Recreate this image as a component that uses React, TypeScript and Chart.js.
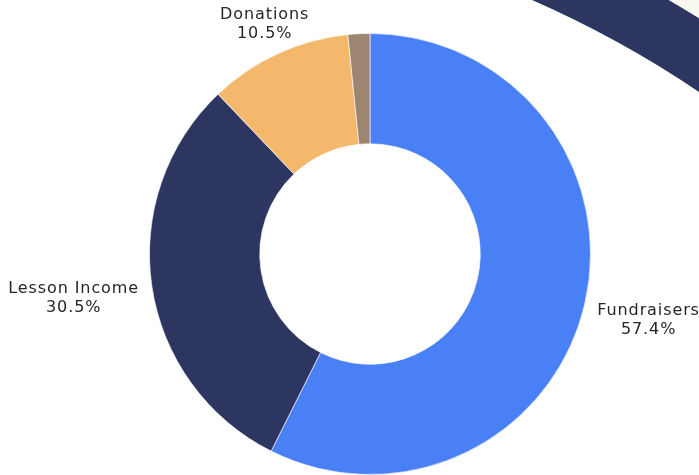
import React, { useEffect, useRef } from "react";
import { Chart, registerables } from "chart.js";

Chart.register(...registerables);

const categories = ["Fundraisers", "Lesson Income", "Donations", "Other"];
const values = [57.4, 30.5, 10.5, 1.6];
const valueLabels = ["57.4%", "30.5%", "10.5%", ""];
const colors = ["#4a80f6", "#2d3561", "#f3b86b", "#9c8672"];

const FONT = "16px 'DejaVu Sans', sans-serif";

const decorPlugin = {
  id: "decor",
  beforeDraw(chart: any) {
    const ctx = chart.ctx;
    ctx.save();
    ctx.fillStyle = "#f8f7f0";
    ctx.beginPath();
    ctx.rect(0, 0, chart.width, chart.height);
    ctx.arc(100, 980, 1133, 0, Math.PI * 2, true);
    ctx.fill("evenodd");
    ctx.strokeStyle = "#2d3561";
    ctx.lineWidth = 62;
    ctx.beginPath();
    ctx.arc(100, 980, 1102, 0, Math.PI * 2);
    ctx.stroke();
    ctx.restore();
  },
};

const labelPlugin = {
  id: "outLabels",
  afterDatasetsDraw(chart: any) {
    const ctx = chart.ctx;
    const meta = chart.getDatasetMeta(0);
    ctx.save();
    ctx.font = FONT;
    try {
      (ctx as any).letterSpacing = "0.9px";
    } catch (e) {}
    ctx.fillStyle = "#262626";
    ctx.textAlign = "center";
    ctx.textBaseline = "middle";
    const lineH = 19;
    meta.data.forEach((arc: any, i: number) => {
      if (!valueLabels[i]) return;
      const p = arc.getProps(["x", "y", "startAngle", "endAngle", "outerRadius"], true);
      const mid = (p.startAngle + p.endAngle) / 2;
      const c = Math.cos(mid);
      const s = Math.sin(mid);
      const lines = [categories[i], valueLabels[i]];
      const w = Math.max(...lines.map((l) => ctx.measureText(l).width));
      const hw = w / 2 + 2;
      const hh = (lines.length * lineH) / 2;
      const t = Math.min(
        Math.abs(c) > 1e-6 ? hw / Math.abs(c) : Infinity,
        Math.abs(s) > 1e-6 ? hh / Math.abs(s) : Infinity
      );
      const d = p.outerRadius + 11 + t;
      const cx = p.x + c * d;
      const cy = p.y + s * d;
      lines.forEach((l, k) => {
        ctx.fillText(l, cx, cy - hh + lineH / 2 + k * lineH);
      });
    });
    ctx.restore();
  },
};

export default function App() {
  const ref = useRef<HTMLCanvasElement | null>(null);
  useEffect(() => {
    if (!ref.current) return;
    const chart = new Chart(ref.current, {
      type: "doughnut",
      data: {
        labels: categories,
        datasets: [
          {
            data: values,
            backgroundColor: colors,
            borderColor: "rgba(255,255,255,0.6)",
            borderWidth: 1,
          },
        ],
      },
      options: {
        animation: false,
        responsive: false,
        cutout: "50%",
        layout: { padding: { left: 149, right: 108, top: 33, bottom: 0 } },
        plugins: {
          legend: { display: false },
          tooltip: { enabled: false },
        },
      },
      plugins: [decorPlugin, labelPlugin],
    });
    return () => chart.destroy();
  }, []);
  return (
    <div style={{ position: "fixed", left: 0, top: 0, width: 699, height: 475, background: "#fff" }}>
      <canvas ref={ref} width={699} height={475} style={{ width: 699, height: 475 }} />
    </div>
  );
}
